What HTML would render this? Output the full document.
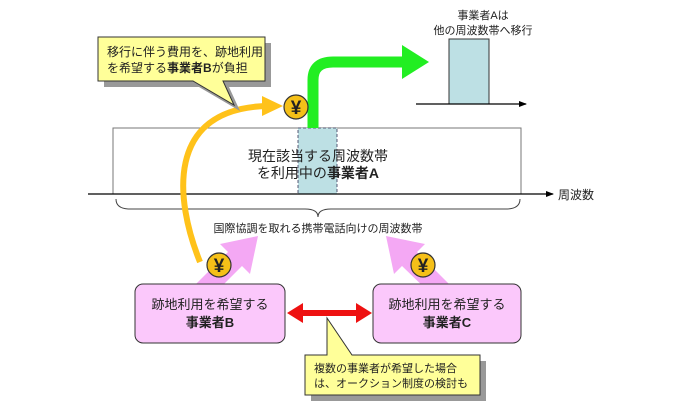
<!DOCTYPE html>
<html><head><meta charset="utf-8"><style>
html,body{margin:0;padding:0;background:#fff}
svg{display:block}
text{font-family:"Liberation Sans","Noto Sans CJK JP",sans-serif;fill:#222}
</style></head><body>
<svg width="680" height="410" viewBox="0 0 680 410" xmlns="http://www.w3.org/2000/svg">
<defs>
<marker id="ah" markerWidth="8" markerHeight="8" refX="7" refY="4" orient="auto" markerUnits="userSpaceOnUse"><path d="M0,1 L8,4 L0,7Z" fill="#000"/></marker>
</defs>
<text x="483" y="19" font-size="11" text-anchor="middle">事業者Aは</text>
<text x="483" y="34" font-size="11" text-anchor="middle">他の周波数帯へ移行</text>
<rect x="449" y="39" width="40" height="65" fill="#bde0e4" stroke="#333" stroke-width="1"/>
<line x1="416" y1="104" x2="526" y2="104" stroke="#000" stroke-width="1.2" marker-end="url(#ah)"/>
<rect x="113" y="128" width="408" height="66" fill="#fff" stroke="#777" stroke-width="1"/>
<rect x="298" y="128" width="39" height="66" fill="#bde0e4" stroke="#335" stroke-width="0.8" stroke-dasharray="3,2"/>
<text x="318" y="161" font-size="14" text-anchor="middle">現在該当する周波数帯</text>
<text x="318" y="178" font-size="14" text-anchor="middle">を利用中の<tspan font-weight="bold">事業者A</tspan></text>
<line x1="88" y1="194" x2="553" y2="194" stroke="#000" stroke-width="1.3" marker-end="url(#ah)"/>
<text x="558" y="199" font-size="12">周波数</text>
<path d="M116,199 Q116,209 130,209 L305,209 Q318,209 318,217 Q318,209 331,209 L506,209 Q520,209 520,199" fill="none" stroke="#444" stroke-width="1"/>
<text x="318" y="232" font-size="11" text-anchor="middle">国際協調を取れる携帯電話向けの周波数帯</text>
<path d="M313,128 L313,80 Q313,62 333,62 L405,62" fill="none" stroke="#22ee22" stroke-width="11"/>
<path d="M402,45 L429,62 L402,79Z" fill="#22ee22"/>
<path d="M195,285 L228,252 L220,244 L258,236 L250,274 L242,266 L215,293Z" fill="#f4a8f4"/>
<path d="M450,285 L417,252 L425,244 L386,236 L394,274 L402,266 L430,293Z" fill="#f4a8f4"/>
<path d="M200,262 C175,200 165,110 265,106" fill="none" stroke="#ffc21a" stroke-width="6"/>
<path d="M262,96 L283,106 L262,116Z" fill="#ffc21a"/>
<g font-size="19" font-weight="bold" text-anchor="middle">
<circle cx="296" cy="107" r="12" fill="#f5c018" stroke="#333" stroke-width="1.2"/><text x="296" y="114">¥</text>
<circle cx="219" cy="265" r="12" fill="#f5c018" stroke="#333" stroke-width="1.2"/><text x="219" y="272">¥</text>
<circle cx="423" cy="265" r="12" fill="#f5c018" stroke="#333" stroke-width="1.2"/><text x="423" y="272">¥</text>
</g>
<path d="M101,40 L268,40 L268,84 L226,84 L237,108 L196,84 L101,84Z" fill="#999" transform="translate(3,3)"/>
<path d="M98,37 L265,37 L265,81 L223,81 L234,105 L193,81 L98,81Z" fill="#ffff99" stroke="#333" stroke-width="1"/>
<text x="107" y="56" font-size="12">移行に伴う費用を、跡地利用</text>
<text x="107" y="72" font-size="12">を希望する<tspan font-weight="bold">事業者B</tspan>が負担</text>
<rect x="135" y="284" width="150" height="59" rx="8" fill="#fbc8fb" stroke="#333" stroke-width="1"/>
<text x="210" y="309" font-size="13" text-anchor="middle">跡地利用を希望する</text>
<text x="210" y="327" font-size="13" text-anchor="middle" font-weight="bold">事業者B</text>
<rect x="373" y="284" width="148" height="59" rx="8" fill="#fbc8fb" stroke="#333" stroke-width="1"/>
<text x="447" y="309" font-size="13" text-anchor="middle">跡地利用を希望する</text>
<text x="447" y="327" font-size="13" text-anchor="middle" font-weight="bold">事業者C</text>
<path d="M287,313 L303,303 L303,310 L356,310 L356,303 L372,313 L356,323 L356,316 L303,316 L303,323Z" fill="#ee1111"/>
<path d="M308,358 L483,358 L483,398 L308,398Z" fill="#999" transform="translate(3,3)"/>
<path d="M305,355 L327,355 L327,318 L352,355 L480,355 L480,395 L305,395Z" fill="#ffff99" stroke="#333" stroke-width="1"/>
<text x="314" y="372" font-size="11">複数の事業者が希望した場合</text>
<text x="314" y="387" font-size="11">は、オークション制度の検討も</text>
</svg>
</body></html>
